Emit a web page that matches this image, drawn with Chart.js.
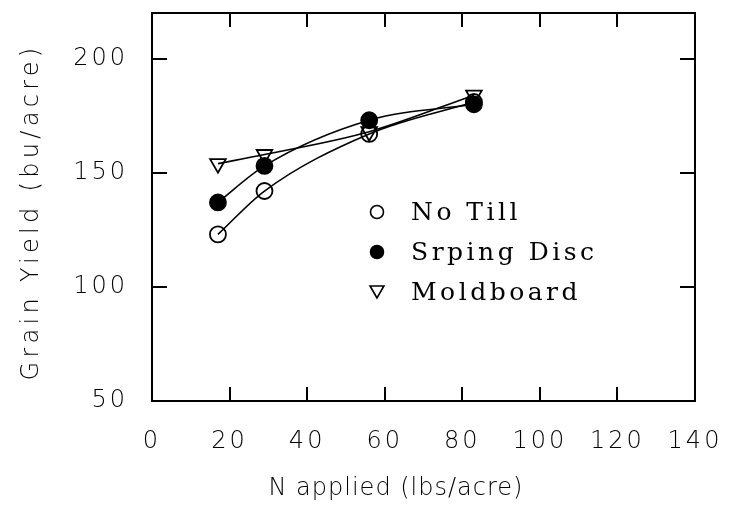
<!DOCTYPE html>
<html>
<head>
<meta charset="utf-8">
<script src="https://cdn.jsdelivr.net/npm/chart.js@4.4.1/dist/chart.umd.min.js"></script>
<style>
  html, body { margin: 0; padding: 0; background: #fff; }
</style>
</head>
<body>
<canvas id="yieldChart" width="729" height="509"></canvas>
<script>
// N rates and grain yields
const nApplied = [17, 29, 56, 83];
const noTill = [123, 142, 167, 181];
const springDisc = [137, 153, 173, 180];
const moldboard = [154, 158, 168, 184];
const seriesNames = ['No Till', 'Srping Disc', 'Moldboard'];
const xTicks = [0, 20, 40, 60, 80, 100, 120, 140];
const yTicks = [50, 100, 150, 200];

const sansFont = '"DejaVu Sans", sans-serif';
const serifFont = '"DejaVu Serif", serif';
const textWeight = '200';

function toPoints(values) {
    return nApplied.map((n, i) => ({ x: n, y: values[i] }));
}

// marker styles for the three tillage systems
const markers = [
    { pointStyle: 'circle', radius: 8, rotation: 0, fill: 'rgba(0,0,0,0)', legendRadius: 6.5 },
    { pointStyle: 'circle', radius: 8, rotation: 0, fill: '#000', legendRadius: 6.5 },
    { pointStyle: 'triangle', radius: 9, rotation: 180, fill: 'rgba(0,0,0,0)', legendRadius: 8 }
];

function makeDataset(label, values, m) {
    return {
        label: label,
        data: toPoints(values),
        borderColor: '#000',
        borderWidth: 1.6,
        backgroundColor: m.fill,
        pointStyle: m.pointStyle,
        pointRadius: m.radius,
        pointRotation: m.rotation,
        pointBorderWidth: 1.8,
        pointBorderColor: '#000',
        pointBackgroundColor: m.fill,
        cubicInterpolationMode: 'monotone',
        fill: false
    };
}

// frame, inward ticks, axis titles and the legend inside the plot
const framePlugin = {
    id: 'framePlugin',
    beforeDraw(chart) {
        chart.ctx.letterSpacing = '3px';
    },
    afterDraw(chart) {
        const ctx = chart.ctx;
        const a = chart.chartArea;
        const xs = chart.scales.x;
        const ys = chart.scales.y;
        ctx.save();
        ctx.letterSpacing = '0px';
        ctx.strokeStyle = '#000';
        ctx.lineWidth = 2;
        ctx.strokeRect(a.left, a.top, a.right - a.left, a.bottom - a.top);

        ctx.beginPath();
        xTicks.slice(1, -1).forEach(v => {
            const px = Math.round(xs.getPixelForValue(v));
            ctx.moveTo(px, a.bottom); ctx.lineTo(px, a.bottom - 14);
            ctx.moveTo(px, a.top); ctx.lineTo(px, a.top + 14);
        });
        yTicks.slice(1).forEach(v => {
            const py = Math.round(ys.getPixelForValue(v));
            ctx.moveTo(a.left, py); ctx.lineTo(a.left + 15, py);
            ctx.moveTo(a.right, py); ctx.lineTo(a.right - 15, py);
        });
        ctx.stroke();

        // axis titles
        ctx.fillStyle = '#000';
        ctx.textAlign = 'center';
        ctx.textBaseline = 'middle';
        ctx.font = textWeight + ' 24px ' + sansFont;
        ctx.letterSpacing = '1px';
        ctx.fillText('N applied (lbs/acre)', 396, 489);

        ctx.save();
        ctx.translate(32, 212);
        ctx.rotate(-Math.PI / 2);
        ctx.letterSpacing = '4.3px';
        ctx.fillText('Grain Yield (bu/acre)', 0, 0);
        ctx.restore();

        // legend
        ctx.font = '25px ' + serifFont;
        ctx.letterSpacing = '3.5px';
        ctx.textAlign = 'left';
        ctx.lineWidth = 1.6;
        seriesNames.forEach((name, i) => {
            const m = markers[i];
            const y = 212 + i * 40;
            ctx.fillStyle = m.fill;
            ctx.strokeStyle = '#000';
            Chart.helpers.drawPoint(ctx, {
                pointStyle: m.pointStyle,
                rotation: m.rotation,
                radius: m.legendRadius,
                borderWidth: 1.6
            }, 377, i === 2 ? y - 2 : y);
            ctx.fillStyle = '#000';
            ctx.fillText(name, 411, y + 1);
        });
        ctx.restore();
    }
};

const ctx = document.getElementById('yieldChart').getContext('2d');
const yieldChart = new Chart(ctx, {
    type: 'line',
    data: {
        datasets: [
            makeDataset(seriesNames[0], noTill, markers[0]),
            makeDataset(seriesNames[1], springDisc, markers[1]),
            makeDataset(seriesNames[2], moldboard, markers[2])
        ]
    },
    options: {
        responsive: false,
        animation: false,
        layout: { padding: { left: 0, right: 34, top: 13, bottom: 0 } },
        plugins: {
            legend: { display: false },
            tooltip: { enabled: false }
        },
        scales: {
            x: {
                type: 'linear',
                min: 0,
                max: 140,
                afterBuildTicks: scale => { scale.ticks = xTicks.map(v => ({ value: v })); },
                afterFit: scale => {
                    scale.height = 108;
                    scale.paddingLeft = 0;
                    scale.paddingRight = 0;
                },
                grid: { display: false },
                border: { display: false },
                ticks: {
                    color: '#000',
                    padding: 18,
                    maxRotation: 0,
                    font: { family: sansFont, size: 24, weight: textWeight }
                }
            },
            y: {
                type: 'linear',
                min: 50,
                max: 220,
                afterBuildTicks: scale => { scale.ticks = yTicks.map(v => ({ value: v })); },
                afterFit: scale => {
                    scale.width = 152;
                    scale.paddingTop = 0;
                    scale.paddingBottom = 0;
                },
                grid: { display: false },
                border: { display: false },
                ticks: {
                    color: '#000',
                    padding: 16,
                    font: { family: sansFont, size: 24, weight: textWeight }
                }
            }
        }
    },
    plugins: [framePlugin]
});
</script>
</body>
</html>
